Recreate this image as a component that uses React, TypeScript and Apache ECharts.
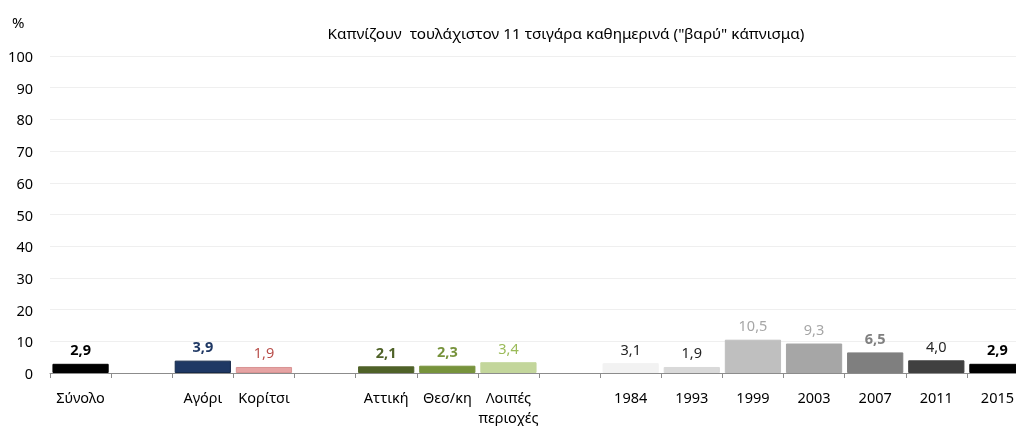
import React, { useEffect, useRef } from "react";
import * as echarts from "echarts";

const categories = ["Σύνολο", "", "Αγόρι", "Κορίτσι", "", "Αττική", "Θεσ/κη", "Λοιπές\nπεριοχές", "", "1984", "1993", "1999", "2003", "2007", "2011", "2015"];
const values: (number | null)[] = [2.9, null, 3.9, 1.9, null, 2.1, 2.3, 3.4, null, 3.1, 1.9, 10.5, 9.3, 6.5, 4.0, 2.9];
const barColors = ["#000000", "#fff", "#1f3864", "#e6a3a3", "#fff", "#4f6228", "#77933c", "#c3d69b", "#fff", "#f2f2f2", "#d9d9d9", "#bfbfbf", "#a6a6a6", "#7f7f7f", "#404040", "#000000"];
const barBorders = ["#000000", "#fff", "#162a4a", "#d99494", "#fff", "#4f6228", "#77933c", "#c3d69b", "#fff", "#f2f2f2", "#d9d9d9", "#bfbfbf", "#a6a6a6", "#7f7f7f", "#404040", "#000000"];
const labelColors = ["#000000", "#000", "#1f3864", "#b94f4b", "#000", "#4f6228", "#77933c", "#9bbb59", "#000", "#262626", "#262626", "#a6a6a6", "#a6a6a6", "#808080", "#262626", "#000000"];
const labelBold = [true, false, true, false, false, true, true, false, false, false, false, false, false, true, false, true];
const title = 'Καπνίζουν  τουλάχιστον 11 τσιγάρα καθημερινά ("βαρύ" κάπνισμα)';

const FONT = "Noto Sans";

export default function App() {
  const ref = useRef<HTMLDivElement>(null);
  useEffect(() => {
    if (!ref.current) return;
    const chart = echarts.init(ref.current, undefined, { renderer: "svg" });
    chart.setOption({
      animation: false,
      textStyle: { fontFamily: FONT },
      title: {
        text: title,
        left: 561,
        textAlign: "center",
        top: 20,
        textStyle: { fontFamily: FONT, fontSize: 15.3, fontWeight: "normal", color: "#000" },
      },
      graphic: [
        { type: "text", left: 12, top: 14, style: { text: "%", fontFamily: FONT, fontSize: 15, fill: "#000" } },
      ],
      grid: { left: 50, right: -12, top: 56, bottom: 53, containLabel: false, outerBoundsMode: "none" },
      xAxis: {
        type: "category",
        data: categories,
        axisLine: { lineStyle: { color: "#8c8c8c", width: 1 } },
        axisTick: { show: true, length: 5, lineStyle: { color: "#8c8c8c" }, interval: 0 },
        axisLabel: { interval: 0, color: "#000", fontSize: 14.5, fontFamily: FONT, margin: 14, lineHeight: 20 },
      },
      yAxis: {
        type: "value",
        min: 0,
        max: 100,
        interval: 10,
        axisLine: { show: false },
        axisTick: { show: false },
        axisLabel: { color: "#000", fontSize: 14.5, fontFamily: FONT, margin: 17 },
        splitLine: { lineStyle: { color: "#efefef", width: 1 } },
      },
      series: [
        {
          type: "bar",
          barWidth: "92%",
          data: values.map((v, i) => ({
            value: v === null ? "-" : v,
            itemStyle: { color: barColors[i], borderColor: barBorders[i], borderWidth: 1 },
            label: {
              show: v !== null,
              position: "top",
              distance: 7,
              color: labelColors[i],
              fontWeight: labelBold[i] ? "bold" : "normal",
              fontSize: 14.5,
              fontFamily: FONT,
              formatter: () => (v === null ? "" : v.toFixed(1).replace(".", ",")),
            },
          })),
        },
      ],
    });
    return () => chart.dispose();
  }, []);
  return <div ref={ref} style={{ position: "fixed", left: 0, top: 0, width: 1016, height: 426 }} />;
}
